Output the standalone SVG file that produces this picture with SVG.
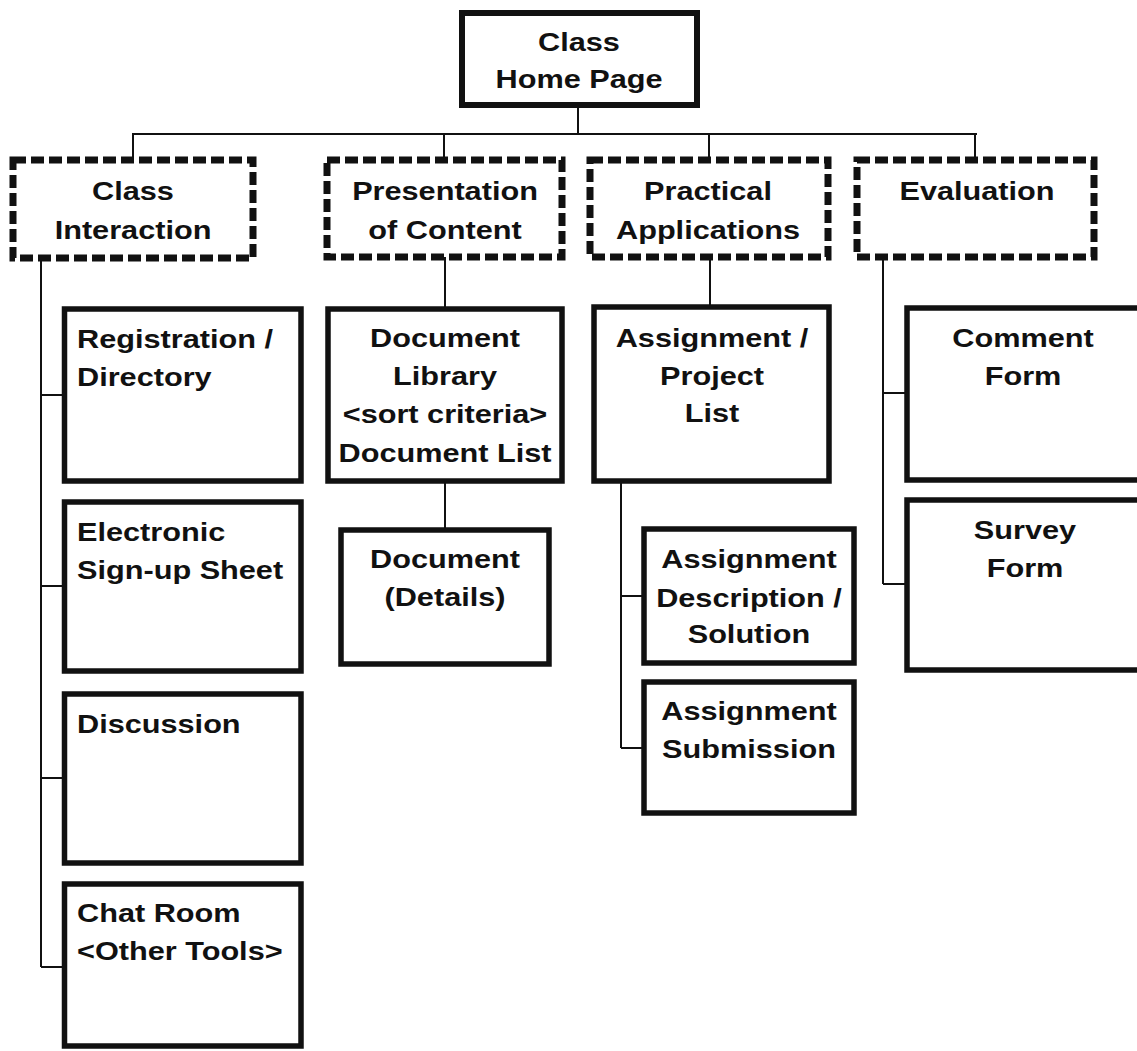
<svg xmlns="http://www.w3.org/2000/svg" width="1137" height="1051" viewBox="0 0 1137 1051">
  <style>
    .bg { fill: #ffffff; }
    .box { fill: #ffffff; stroke: #111111; stroke-width: 5.5; }
    .top { fill: #ffffff; stroke: #111111; stroke-width: 6; }
    .area { fill: #ffffff; stroke: #111111; stroke-width: 7; stroke-dasharray: 13 5; }
    .link { fill: none; stroke: #111111; stroke-width: 2; }
    text { font-family: "Liberation Sans", Arial, Helvetica, sans-serif; font-weight: bold; font-size: 26px; fill: #111111; }
    .c { text-anchor: middle; }
    .l { text-anchor: start; }
  </style>
  <rect class="bg" x="0" y="0" width="1137" height="1051"/>

  <!-- connectors -->
  <g id="connectors">
    <path class="link" d="M578 105 V134 M132 134 H977 M133 134 V160 M444 134 V160 M709 134 V160 M975 134 V160"/>
    <path class="link" d="M41 258 V967 M41 395 H64 M41 586 H64 M41 778 H64 M41 967 H64"/>
    <path class="link" d="M445 257 V309 M445 481 V530"/>
    <path class="link" d="M710 257 V307 M621 481 V748 M621 596 H644 M621 748 H644"/>
    <path class="link" d="M883 257 V584 M883 393 H907 M883 584 H907"/>
  </g>

  <!-- root -->
  <g id="home">
    <rect class="top" x="462" y="13" width="235" height="92"/>
    <g transform="translate(579 0) scale(1.18 1)">
      <text class="c" x="0" y="51">Class</text>
      <text class="c" x="0" y="88">Home Page</text>
    </g>
  </g>

  <!-- main areas -->
  <g id="class-interaction">
    <rect class="area" x="13" y="160" width="240" height="98"/>
    <g transform="translate(133 0) scale(1.18 1)">
      <text class="c" x="0" y="200">Class</text>
      <text class="c" x="0" y="239">Interaction</text>
    </g>
  </g>
  <g id="presentation">
    <rect class="area" x="327" y="160" width="235" height="97"/>
    <g transform="translate(445 0) scale(1.18 1)">
      <text class="c" x="0" y="200">Presentation</text>
      <text class="c" x="0" y="239">of Content</text>
    </g>
  </g>
  <g id="practical">
    <rect class="area" x="590" y="160" width="238" height="97"/>
    <g transform="translate(708 0) scale(1.18 1)">
      <text class="c" x="0" y="200">Practical</text>
      <text class="c" x="0" y="239">Applications</text>
    </g>
  </g>
  <g id="evaluation">
    <rect class="area" x="857" y="160" width="237" height="97"/>
    <g transform="translate(977 0) scale(1.18 1)">
      <text class="c" x="0" y="200">Evaluation</text>
    </g>
  </g>

  <!-- class interaction pages -->
  <g id="registration">
    <rect class="box" x="64.5" y="309" width="236.5" height="172"/>
    <g transform="translate(77 0) scale(1.18 1)">
      <text class="l" x="0" y="348">Registration /</text>
      <text class="l" x="0" y="386">Directory</text>
    </g>
  </g>
  <g id="signup">
    <rect class="box" x="64.5" y="502" width="236.5" height="169"/>
    <g transform="translate(77 0) scale(1.18 1)">
      <text class="l" x="0" y="541">Electronic</text>
      <text class="l" x="0" y="579">Sign-up Sheet</text>
    </g>
  </g>
  <g id="discussion">
    <rect class="box" x="64.5" y="694" width="236.5" height="169"/>
    <g transform="translate(77 0) scale(1.18 1)">
      <text class="l" x="0" y="733">Discussion</text>
    </g>
  </g>
  <g id="chat">
    <rect class="box" x="64.5" y="884" width="236.5" height="162"/>
    <g transform="translate(77 0) scale(1.18 1)">
      <text class="l" x="0" y="922">Chat Room</text>
      <text class="l" x="0" y="960">&lt;Other Tools&gt;</text>
    </g>
  </g>

  <!-- presentation pages -->
  <g id="doc-library">
    <rect class="box" x="328" y="309" width="234" height="172"/>
    <g transform="translate(445 0) scale(1.18 1)">
      <text class="c" x="0" y="347">Document</text>
      <text class="c" x="0" y="385">Library</text>
      <text class="c" x="0" y="423">&lt;sort criteria&gt;</text>
      <text class="c" x="0" y="462">Document List</text>
    </g>
  </g>
  <g id="doc-details">
    <rect class="box" x="341" y="530" width="208" height="134"/>
    <g transform="translate(445 0) scale(1.18 1)">
      <text class="c" x="0" y="568">Document</text>
      <text class="c" x="0" y="606">(Details)</text>
    </g>
  </g>

  <!-- practical pages -->
  <g id="assignment-list">
    <rect class="box" x="594" y="307" width="235" height="174"/>
    <g transform="translate(712 0) scale(1.18 1)">
      <text class="c" x="0" y="347">Assignment /</text>
      <text class="c" x="0" y="385">Project</text>
      <text class="c" x="0" y="422">List</text>
    </g>
  </g>
  <g id="assignment-description">
    <rect class="box" x="644" y="529" width="210" height="134"/>
    <g transform="translate(749 0) scale(1.18 1)">
      <text class="c" x="0" y="568">Assignment</text>
      <text class="c" x="0" y="607">Description /</text>
      <text class="c" x="0" y="643">Solution</text>
    </g>
  </g>
  <g id="assignment-submission">
    <rect class="box" x="644" y="682" width="210" height="131"/>
    <g transform="translate(749 0) scale(1.18 1)">
      <text class="c" x="0" y="720">Assignment</text>
      <text class="c" x="0" y="758">Submission</text>
    </g>
  </g>

  <!-- evaluation pages -->
  <g id="comment-form">
    <rect class="box" x="907" y="308" width="240" height="172"/>
    <g transform="translate(1023 0) scale(1.18 1)">
      <text class="c" x="0" y="347">Comment</text>
      <text class="c" x="0" y="385">Form</text>
    </g>
  </g>
  <g id="survey-form">
    <rect class="box" x="907" y="500" width="240" height="170"/>
    <g transform="translate(1025 0) scale(1.18 1)">
      <text class="c" x="0" y="539">Survey</text>
      <text class="c" x="0" y="577">Form</text>
    </g>
  </g>
</svg>
